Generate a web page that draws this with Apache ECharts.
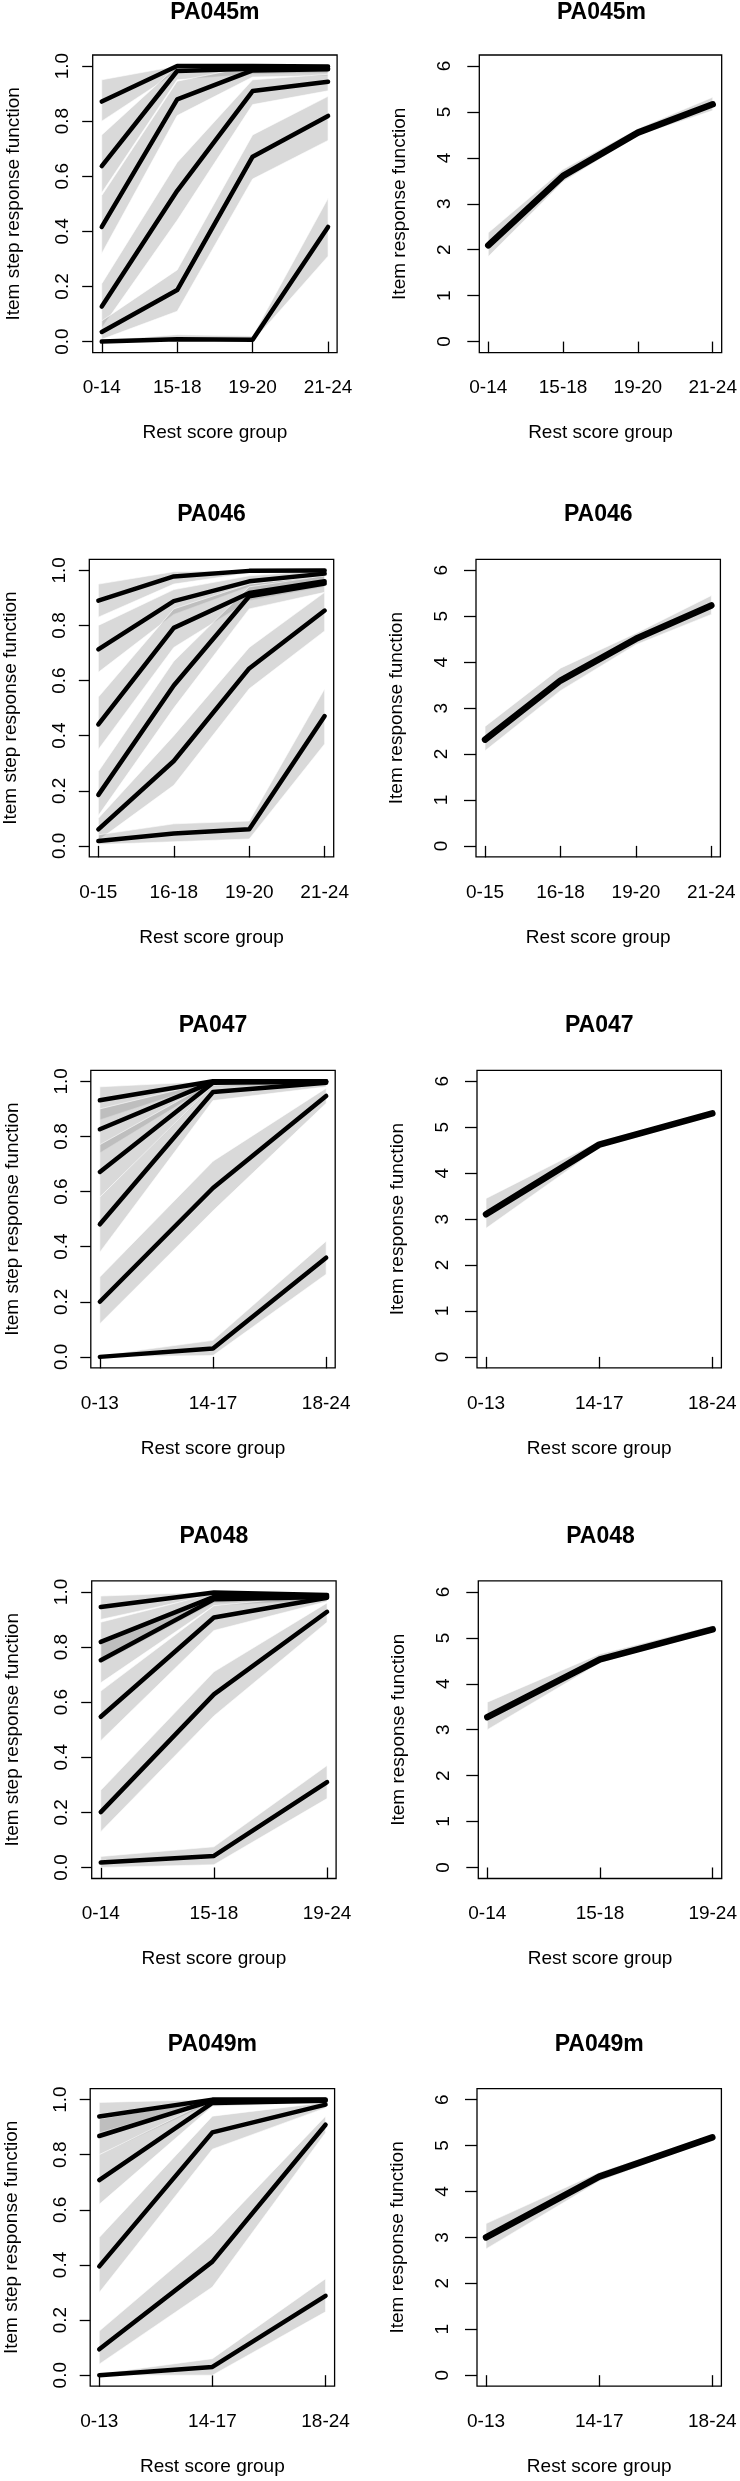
<!DOCTYPE html>
<html>
<head>
<meta charset="utf-8">
<script src="https://cdn.jsdelivr.net/npm/echarts@6/dist/echarts.min.js"></script>
<style>
html,body{margin:0;padding:0;background:#fff;}
#c{width:740px;height:2481px;}
</style>
</head>
<body>
<div id="c"></div>
<script>
// ---------- DATA ----------
const titles = ['PA045m', 'PA046', 'PA047', 'PA048', 'PA049m'];

const groups45 = ['0-14', '15-18', '19-20', '21-24'];
const step45 = [
  [0.871, 1.000, 1.000, 0.998],
  [0.637, 0.982, 0.990, 0.992],
  [0.416, 0.879, 0.984, 0.988],
  [0.127, 0.547, 0.909, 0.943],
  [0.035, 0.187, 0.671, 0.819],
  [0.000, 0.008, 0.007, 0.416]
];
const lo45 = [
  [0.80, 0.98, 0.985, 0.985],
  [0.54, 0.95, 0.97, 0.975],
  [0.32, 0.82, 0.96, 0.965],
  [0.05, 0.44, 0.86, 0.91],
  [0.008, 0.11, 0.59, 0.73],
  [0.000, 0.000, 0.000, 0.31]
];
const hi45 = [
  [0.95, 1.00, 1.00, 1.00],
  [0.75, 1.00, 1.00, 1.00],
  [0.53, 0.945, 1.00, 1.00],
  [0.21, 0.65, 0.95, 0.97],
  [0.075, 0.26, 0.75, 0.89],
  [0.005, 0.025, 0.02, 0.52]
];
const irf45 = [2.097, 3.607, 4.550, 5.167];
const irfLo45 = [1.85, 3.48, 4.48, 5.03];
const irfHi45 = [2.37, 3.75, 4.64, 5.32];

const groups46 = ['0-15', '16-18', '19-20', '21-24'];
const step46 = [
  [0.890, 0.978, 0.998, 0.999],
  [0.713, 0.888, 0.960, 0.988],
  [0.441, 0.791, 0.918, 0.960],
  [0.185, 0.582, 0.906, 0.952],
  [0.060, 0.308, 0.644, 0.854],
  [0.018, 0.045, 0.060, 0.471]
];
const lo46 = [
  [0.83, 0.95, 0.99, 0.995],
  [0.63, 0.84, 0.94, 0.975],
  [0.35, 0.72, 0.89, 0.94],
  [0.11, 0.50, 0.86, 0.92],
  [0.02, 0.22, 0.57, 0.78],
  [0.005, 0.015, 0.025, 0.37]
];
const hi46 = [
  [0.95, 0.995, 1.00, 1.00],
  [0.80, 0.93, 0.98, 1.00],
  [0.54, 0.86, 0.95, 0.98],
  [0.27, 0.67, 0.94, 0.98],
  [0.10, 0.40, 0.72, 0.92],
  [0.04, 0.08, 0.09, 0.57]
];
const irf46 = [2.313, 3.600, 4.509, 5.236];
const irfLo46 = [2.07, 3.38, 4.38, 5.04];
const irfHi46 = [2.60, 3.87, 4.63, 5.45];

const groups47 = ['0-13', '14-17', '18-24'];
const step47 = [
  [0.931, 1.000, 1.000],
  [0.826, 0.998, 0.999],
  [0.671, 0.995, 0.998],
  [0.481, 0.961, 0.995],
  [0.200, 0.613, 0.947],
  [0.000, 0.030, 0.360]
];
const lo47 = [
  [0.86, 0.995, 0.995],
  [0.74, 0.99, 0.99],
  [0.58, 0.98, 0.99],
  [0.38, 0.93, 0.98],
  [0.12, 0.53, 0.92],
  [0.000, 0.005, 0.30]
];
const hi47 = [
  [0.98, 1.00, 1.00],
  [0.90, 1.00, 1.00],
  [0.77, 1.00, 1.00],
  [0.58, 0.985, 1.00],
  [0.29, 0.71, 0.975],
  [0.005, 0.06, 0.42]
];
const irf47 = [3.105, 4.622, 5.304];
const irfLo47 = [2.80, 4.55, 5.26];
const irfHi47 = [3.45, 4.70, 5.34];

const groups48 = ['0-14', '15-18', '19-24'];
const step48 = [
  [0.945, 0.998, 0.989],
  [0.819, 0.982, 0.985],
  [0.752, 0.973, 0.982],
  [0.547, 0.907, 0.979],
  [0.201, 0.628, 0.928],
  [0.018, 0.042, 0.310]
];
const lo48 = [
  [0.90, 0.99, 0.98],
  [0.74, 0.96, 0.97],
  [0.67, 0.95, 0.97],
  [0.46, 0.86, 0.965],
  [0.13, 0.55, 0.89],
  [0.000, 0.01, 0.25]
];
const hi48 = [
  [0.985, 1.00, 0.995],
  [0.89, 0.995, 0.995],
  [0.82, 0.99, 0.99],
  [0.64, 0.95, 0.99],
  [0.28, 0.71, 0.96],
  [0.04, 0.075, 0.37]
];
const irf48 = [3.273, 4.531, 5.185];
const irfLo48 = [3.00, 4.45, 5.12];
const irfHi48 = [3.60, 4.65, 5.27];

const groups49 = ['0-13', '14-17', '18-24'];
const step49 = [
  [0.939, 1.000, 1.000],
  [0.868, 0.996, 0.999],
  [0.708, 0.988, 0.996],
  [0.395, 0.881, 0.982],
  [0.094, 0.412, 0.909],
  [0.000, 0.030, 0.288]
];
const lo49 = [
  [0.88, 0.995, 0.995],
  [0.80, 0.99, 0.995],
  [0.62, 0.975, 0.99],
  [0.30, 0.82, 0.97],
  [0.04, 0.32, 0.88],
  [0.000, 0.000, 0.23]
];
const hi49 = [
  [0.99, 1.00, 1.00],
  [0.93, 1.00, 1.00],
  [0.80, 1.00, 1.00],
  [0.50, 0.94, 0.99],
  [0.16, 0.51, 0.94],
  [0.005, 0.06, 0.35]
];
const irf49 = [3.000, 4.322, 5.179];
const irfLo49 = [2.75, 4.22, 5.12];
const irfHi49 = [3.30, 4.42, 5.24];

const stepTicks = [0, 0.2, 0.4, 0.6, 0.8, 1.0];
const irfTicks = [0, 1, 2, 3, 4, 5, 6];

const panels = [
  {groups: groups45, step: step45, lo: lo45, hi: hi45, irf: irf45, irfLo: irfLo45, irfHi: irfHi45},
  {groups: groups46, step: step46, lo: lo46, hi: hi46, irf: irf46, irfLo: irfLo46, irfHi: irfHi46},
  {groups: groups47, step: step47, lo: lo47, hi: hi47, irf: irf47, irfLo: irfLo47, irfHi: irfHi47},
  {groups: groups48, step: step48, lo: lo48, hi: hi48, irf: irf48, irfLo: irfLo48, irfHi: irfHi48},
  {groups: groups49, step: step49, lo: lo49, hi: hi49, irf: irf49, irfLo: irfLo49, irfHi: irfHi49}
];

// ---------- LAYOUT ----------
const rowTop = [55, 559.3, 1070.3, 1580.9, 2088.6];
const titleY = [12.5, 514.3, 1025.3, 1536.3, 2044.9];
const leftX = [92.7, 89.3, 90.8, 91.7, 90.2];
const rightX = [479.3, 476.0, 477.0, 478.3, 477.0];
const boxW = 244.4, boxH = 297.6;

const FONT = '"Liberation Sans", Arial, Helvetica, sans-serif';
const BAND_FILL = 'rgba(128,128,128,0.30)';
const BAND_EDGE = 'rgba(255,255,255,0.75)';

function bandRender(params, api) {
  if (params.dataIndexInside !== 0) return null;
  const n = params.dataInsideLength;
  const up = [], dn = [];
  for (let j = 0; j < n; j++) {
    up.push(api.coord([api.value(0, j), api.value(2, j)]));
    dn.push(api.coord([api.value(0, j), api.value(1, j)]));
  }
  return {
    type: 'polygon',
    shape: {points: up.concat(dn.reverse())},
    style: {fill: BAND_FILL, stroke: BAND_EDGE, lineWidth: 0.8}
  };
}

const grid = [], xAxis = [], yAxis = [], series = [], title = [];
const bandSeries = [], lineSeries = [];

panels.forEach((p, i) => {
  const n = p.groups.length;
  const pad = 0.04 * (n - 1);
  const xs = p.groups.map((_, j) => j + 1);
  [0, 1].forEach(side => {
    const g = 2 * i + side;
    const left = side === 0 ? leftX[i] : rightX[i];
    grid.push({left: left, top: rowTop[i], width: boxW, height: boxH, show: true,
      borderColor: '#000', borderWidth: 1.3, backgroundColor: 'transparent', containLabel: false});
    title.push({text: titles[i], left: left + boxW / 2, top: titleY[i], textAlign: 'center',
      textVerticalAlign: 'middle', padding: 0,
      textStyle: {fontFamily: FONT, fontSize: 23, fontWeight: 'bold', color: '#000'}});
    const tickLen = side === 0 ? 10.5 : 12;
    xAxis.push({
      type: 'value', gridIndex: g, min: 1 - pad, max: n + pad,
      axisLine: {show: false},
      splitLine: {show: false},
      axisTick: {show: true, inside: false, length: 11.5, customValues: xs, lineStyle: {color: '#000', width: 1.3}},
      axisLabel: {show: true, customValues: xs, margin: 26, fontFamily: FONT, fontSize: 19, color: '#000',
        formatter: v => p.groups[Math.round(v) - 1]},
      name: 'Rest score group', nameLocation: 'middle', nameGap: 71,
      nameTextStyle: {fontFamily: FONT, fontSize: 19, color: '#000'}
    });
    const ticks = side === 0 ? stepTicks : irfTicks;
    yAxis.push({
      type: 'value', gridIndex: g,
      min: side === 0 ? -0.04 : -0.24, max: side === 0 ? 1.04 : 6.24,
      axisLine: {show: false},
      splitLine: {show: false},
      axisTick: {show: true, inside: false, length: tickLen, customValues: ticks, lineStyle: {color: '#000', width: 1.3}},
      axisLabel: {show: true, customValues: ticks, rotate: 90, margin: side === 0 ? 20 : 25,
        fontFamily: FONT, fontSize: 19, color: '#000',
        formatter: v => side === 0 ? Number(v).toFixed(1) : String(Math.round(v))},
      name: side === 0 ? 'Item step response function' : 'Item response function',
      nameLocation: 'middle', nameRotate: 90, nameGap: side === 0 ? 69 : 70,
      nameTextStyle: {fontFamily: FONT, fontSize: 19, color: '#000'}
    });
    if (side === 0) {
      p.step.forEach((vals, k) => {
        bandSeries.push({type: 'custom', xAxisIndex: g, yAxisIndex: g, z: 1, clip: true,
          renderItem: bandRender, encode: {x: 0, y: 1},
          data: xs.map((x, j) => [x, p.lo[k][j], p.hi[k][j]])});
        lineSeries.push({type: 'line', xAxisIndex: g, yAxisIndex: g, z: 3, symbol: 'none',
          lineStyle: {color: '#000', width: 4.5, cap: 'round', join: 'round'},
          data: xs.map((x, j) => [x, vals[j]])});
      });
    } else {
      bandSeries.push({type: 'custom', xAxisIndex: g, yAxisIndex: g, z: 1, clip: true,
        renderItem: bandRender, encode: {x: 0, y: 1},
        data: xs.map((x, j) => [x, p.irfLo[j], p.irfHi[j]])});
      lineSeries.push({type: 'line', xAxisIndex: g, yAxisIndex: g, z: 3, symbol: 'none',
        lineStyle: {color: '#000', width: 6.5, cap: 'round', join: 'round'},
        data: xs.map((x, j) => [x, p.irf[j]])});
    }
  });
});

const chart = echarts.init(document.getElementById('c'), null, {renderer: 'canvas'});
chart.setOption({
  animation: false,
  backgroundColor: '#fff',
  title: title,
  grid: grid,
  xAxis: xAxis,
  yAxis: yAxis,
  series: bandSeries.concat(lineSeries)
});
</script>
</body>
</html>
